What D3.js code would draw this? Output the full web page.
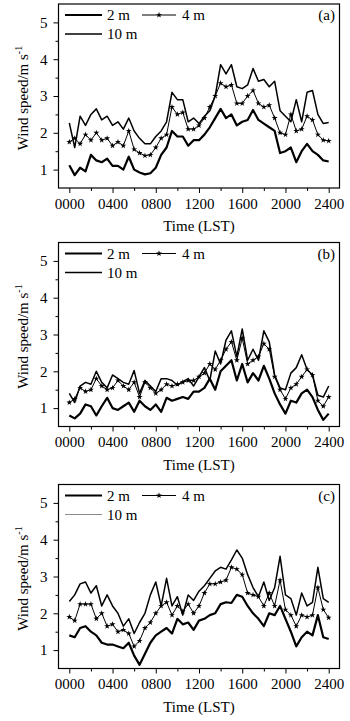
<!DOCTYPE html>
<html>
<head>
<meta charset="utf-8">
<script src="https://cdn.jsdelivr.net/npm/d3@7"></script>
<style>
  body { margin: 0; background: #fff; }
  svg { display: block; }
  text { font-family: "Liberation Serif", "Times New Roman", serif; fill: #000; }
</style>
</head>
<body>
<svg id="chart" width="350" height="721"></svg>
<script>
// Sampling times (hours, local standard time)
const hours = [0,0.5,1,1.5,2,2.5,3,3.5,4,4.5,5,5.5,6,6.5,7,7.5,8,8.5,9,9.5,10,10.5,11,11.5,
  12,12.5,13,13.5,14,14.5,15,15.5,16,16.5,17,17.5,18,18.5,19,19.5,20,20.5,21,21.5,22,22.5,23,23.5,24];

// Axis ticks
const xTickHours = [0, 4, 8, 12, 16, 20, 24];
const xTickLabels = ["0000", "0400", "0800", "1200", "1600", "2000", "2400"];
const xMinorHours = [2, 6, 10, 14, 18, 22];
const yTicks = [1, 2, 3, 4, 5];
const yMinor = [1.5, 2.5, 3.5, 4.5];

const seriesNames = ["2 m", "4 m", "10 m"];
const panelLabels = ["(a)", "(b)", "(c)"];

// Wind speed (m/s), panel (a)
const a2m = [1.12,0.85,1.05,0.95,1.4,1.25,1.2,1.3,1.1,1.1,1.0,1.35,1.0,0.92,0.87,0.9,1.05,1.4,1.6,2.05,
  1.9,1.9,1.65,1.8,1.8,1.95,2.15,2.4,2.65,2.4,2.5,2.2,2.3,2.35,2.62,2.35,2.25,2.15,2.05,1.45,
  1.5,1.6,1.2,1.5,1.7,1.5,1.4,1.25,1.22];
const a4m = [1.75,1.85,1.7,1.95,1.8,2.0,1.8,1.85,1.65,1.75,1.65,2.05,1.55,1.45,1.38,1.4,1.6,1.85,1.95,2.7,
  2.5,2.55,2.1,2.1,2.2,2.4,2.7,3.0,3.35,3.25,3.3,2.8,2.8,3.0,3.15,2.8,2.7,2.75,2.4,2.0,
  1.95,2.5,2.05,2.1,2.45,2.35,1.95,1.8,1.78];
const a10m = [2.27,1.6,2.45,2.2,2.5,2.65,2.35,2.45,2.2,2.3,2.1,2.4,2.05,1.85,1.7,1.7,1.9,2.05,2.3,3.1,
  2.9,2.9,2.3,2.4,2.25,2.45,2.6,3.0,3.85,3.6,3.85,3.25,3.2,3.3,3.75,3.4,3.45,3.25,3.4,2.6,
  2.45,2.3,2.9,2.3,3.1,3.15,2.5,2.25,2.28];

// Wind speed (m/s), panel (b)
const b2m = [0.8,0.72,0.85,1.1,1.05,0.8,1.05,1.28,1.0,0.95,1.05,1.15,0.9,1.2,1.05,0.95,1.1,0.9,1.28,1.2,
  1.25,1.3,1.25,1.45,1.45,1.55,1.8,1.5,2.0,2.15,2.3,1.75,2.2,1.7,1.95,1.75,2.15,1.8,1.4,1.1,
  0.85,1.2,1.15,1.4,1.5,1.3,0.95,0.68,0.85];
const b4m = [1.15,1.25,1.55,1.45,1.5,1.8,1.6,1.5,1.55,1.75,1.6,1.5,1.7,1.3,1.7,1.55,1.4,1.5,1.65,1.6,
  1.65,1.7,1.75,1.75,1.85,1.95,2.2,2.05,2.3,2.6,2.8,2.3,2.9,2.2,2.3,2.4,2.75,2.6,1.85,1.5,
  1.25,1.55,1.65,1.85,2.05,1.9,1.2,1.05,1.3];
const b10m = [1.4,1.15,1.6,1.7,1.65,2.0,1.7,1.55,1.9,1.8,1.7,1.65,2.02,1.4,1.75,1.6,1.45,1.8,1.8,1.75,
  1.62,1.72,1.8,1.6,1.85,2.1,1.75,2.55,2.2,2.85,3.1,2.4,3.15,2.3,2.6,2.3,3.1,2.8,1.9,1.55,
  1.5,1.95,2.1,2.45,2.05,1.9,1.35,1.3,1.6];

// Wind speed (m/s), panel (c)
const c2m = [1.4,1.35,1.6,1.65,1.5,1.4,1.2,1.15,1.15,1.1,1.05,1.2,0.85,0.6,0.9,1.2,1.4,1.5,1.6,1.45,
  1.85,1.7,1.75,1.55,1.8,1.85,1.95,2.0,2.25,2.3,2.28,2.5,2.45,2.2,2.0,1.85,1.65,2.0,1.95,2.2,
  1.85,1.5,1.1,1.35,1.5,1.4,1.95,1.35,1.3];
const c4m = [1.9,1.8,2.25,2.25,2.25,1.85,2.0,1.65,1.7,1.5,1.55,1.45,1.1,1.25,1.6,1.75,2.0,2.2,2.3,1.95,
  2.2,2.05,2.25,2.0,2.2,2.55,2.8,2.8,2.85,2.9,3.25,3.2,3.05,2.55,2.5,2.45,2.2,2.55,2.2,2.9,
  2.1,1.95,1.65,1.95,1.9,1.95,2.7,2.1,1.88];
const c10m = [2.32,2.5,2.8,2.85,2.55,2.75,2.2,2.5,2.2,2.0,1.65,1.85,1.45,1.75,2.0,2.5,2.85,2.2,2.95,2.2,
  2.45,1.95,2.5,2.35,2.6,2.75,2.95,3.15,3.25,3.2,3.45,3.72,3.5,3.05,2.7,2.45,2.85,2.35,2.7,3.55,
  2.5,2.4,1.95,2.55,2.2,2.3,3.25,2.4,2.3];

const panelSeries = [
  [a2m, a4m, a10m],
  [b2m, b4m, b10m],
  [c2m, c4m, c10m]
];

// Layout
const panelTops = [4, 242.5, 484.5];
const plotLeft = 58.5, plotRight = 339.5, plotH = 184;
const fontSize = 15;

const svg = d3.select("#chart");

const x = d3.scaleLinear().domain([-1, 25]).range([plotLeft, plotRight]);
const y = d3.scaleLinear().domain([0.5, 5.5]).range([plotH, 0]);

const styles = [
  { width: 2.2, color: "#000", stars: false },
  { width: 1.0, color: "#000", stars: true },
  { width: 1.5, color: "#000", stars: false }
];

const star = d3.symbol().type(d3.symbolStar).size(11);

panelSeries.forEach((series, p) => {
  const g = svg.append("g").attr("transform", `translate(0,${panelTops[p]})`);

  // x axis (major + minor ticks)
  g.append("g").attr("transform", `translate(0,${plotH})`)
    .call(d3.axisBottom(x).tickValues(xTickHours)
      .tickFormat((d, i) => xTickLabels[i]).tickSize(5).tickPadding(5).tickSizeOuter(0));
  g.append("g").attr("transform", `translate(0,${plotH})`)
    .call(d3.axisBottom(x).tickValues(xMinorHours).tickFormat("").tickSize(3).tickSizeOuter(0));

  // y axis (major + minor ticks)
  g.append("g").attr("transform", `translate(${plotLeft},0)`)
    .call(d3.axisLeft(y).tickValues(yTicks).tickFormat(d3.format("d"))
      .tickSize(5).tickPadding(6).tickSizeOuter(0));
  g.append("g").attr("transform", `translate(${plotLeft},0)`)
    .call(d3.axisLeft(y).tickValues(yMinor).tickFormat("").tickSize(3).tickSizeOuter(0));

  g.selectAll(".domain").remove();
  g.selectAll(".tick line").attr("stroke", "#000").attr("stroke-width", 1);
  g.selectAll(".tick text").attr("font-size", fontSize)
    .attr("font-family", "'Liberation Serif', 'Times New Roman', serif").attr("fill", "#000");

  // frame
  g.append("rect")
    .attr("x", plotLeft).attr("y", 0)
    .attr("width", plotRight - plotLeft).attr("height", plotH)
    .attr("fill", "none").attr("stroke", "#000").attr("stroke-width", 1.2);

  // series lines
  const line = d3.line().x((d, i) => x(hours[i])).y(d => y(d));
  series.forEach((vals, s) => {
    const st = styles[s];
    g.append("path").datum(vals)
      .attr("d", line)
      .attr("fill", "none")
      .attr("stroke", st.color)
      .attr("stroke-width", st.width)
      .attr("stroke-linejoin", "round");
    if (st.stars) {
      g.selectAll(null).data(vals).enter().append("path")
        .attr("d", star)
        .attr("transform", (d, i) => `translate(${x(hours[i])},${y(d)})`)
        .attr("fill", "#000");
    }
  });

  // legend
  const lg = g.append("g");
  const row1 = 11, row2 = 30;
  lg.append("line").attr("x1", 65).attr("x2", 102).attr("y1", row1).attr("y2", row1)
    .attr("stroke", "#000").attr("stroke-width", styles[0].width);
  lg.append("text").attr("x", 107).attr("y", row1 + 5).attr("font-size", fontSize).text(seriesNames[0]);
  lg.append("line").attr("x1", 142).attr("x2", 176).attr("y1", row1).attr("y2", row1)
    .attr("stroke", "#000").attr("stroke-width", styles[1].width);
  lg.append("path").attr("d", star).attr("transform", `translate(159,${row1})`).attr("fill", "#000");
  lg.append("text").attr("x", 182).attr("y", row1 + 5).attr("font-size", fontSize).text(seriesNames[1]);
  lg.append("line").attr("x1", 65).attr("x2", 102).attr("y1", row2).attr("y2", row2)
    .attr("stroke", p === 2 ? "#8a8a8a" : "#000")
    .attr("stroke-width", p === 2 ? 1 : styles[2].width);
  lg.append("text").attr("x", 107).attr("y", row2 + 5).attr("font-size", fontSize).text(seriesNames[2]);

  // panel tag
  g.append("text").attr("x", 335).attr("y", row1 + 5).attr("text-anchor", "end")
    .attr("font-size", fontSize).text(panelLabels[p]);

  // axis titles
  g.append("text")
    .attr("x", (plotLeft + plotRight) / 2).attr("y", plotH + 43)
    .attr("text-anchor", "middle").attr("font-size", fontSize)
    .text("Time (LST)");

  const yt = g.append("text")
    .attr("transform", `translate(28,${plotH / 2 + 2}) rotate(-90)`)
    .attr("text-anchor", "middle").attr("font-size", fontSize);
  yt.append("tspan").text("Wind speed/m s");
  yt.append("tspan").attr("dy", -6).attr("font-size", 10).text("-1");
});
</script>
</body>
</html>
